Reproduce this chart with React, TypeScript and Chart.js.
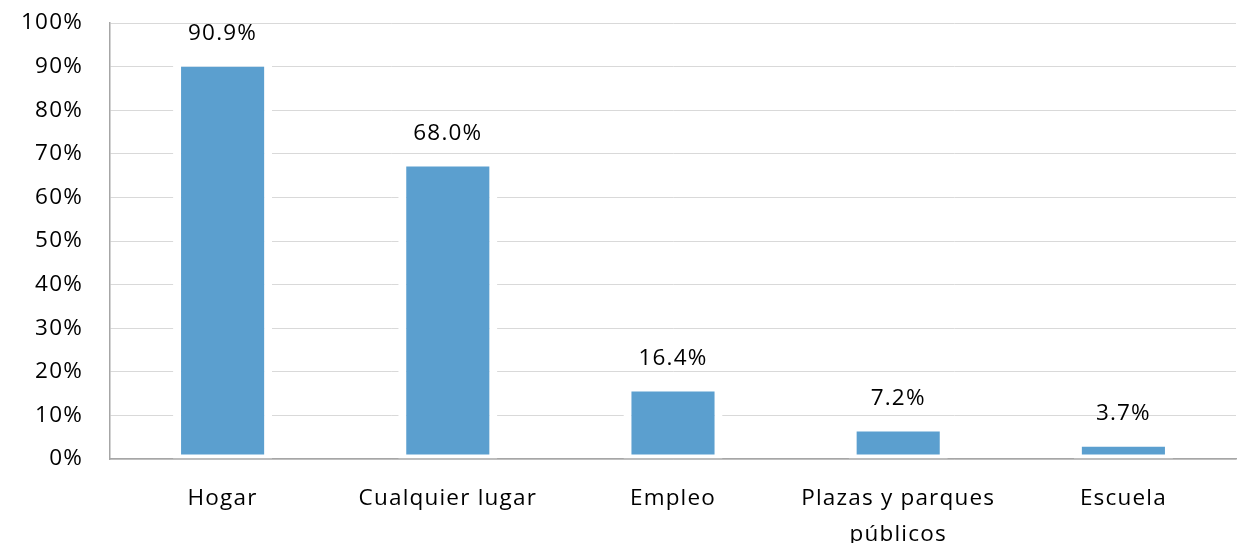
import React, { useEffect, useRef } from "react";
import { Chart, registerables } from "chart.js";

Chart.register(...registerables);

const categories: (string | string[])[] = [
  "Hogar",
  "Cualquier lugar",
  "Empleo",
  ["Plazas y parques", "públicos"],
  "Escuela",
];
const values: number[] = [90.9, 68.0, 16.4, 7.2, 3.7];
const valueLabels: string[] = ["90.9%", "68.0%", "16.4%", "7.2%", "3.7%"];

const FONT = "'Open Sans', sans-serif";
const FONT_SIZE = 22.5;
const LETTER_SPACING = "1.2px";

const spacingPlugin = {
  id: "letterSpacing",
  beforeLayout(chart: any) {
    chart.ctx.letterSpacing = LETTER_SPACING;
  },
  beforeDraw(chart: any) {
    chart.ctx.letterSpacing = LETTER_SPACING;
  },
};

const dataLabelPlugin = {
  id: "dataLabels",
  afterDatasetsDraw(chart: any) {
    const ctx = chart.ctx;
    const meta = chart.getDatasetMeta(0);
    ctx.save();
    ctx.letterSpacing = LETTER_SPACING;
    ctx.font = `${FONT_SIZE}px ${FONT}`;
    ctx.fillStyle = "#000000";
    ctx.textAlign = "center";
    ctx.textBaseline = "middle";
    meta.data.forEach((bar: any, i: number) => {
      ctx.fillText(valueLabels[i], bar.x, bar.y - 29);
    });
    ctx.restore();
  },
};

export default function App() {
  const canvasRef = useRef<HTMLCanvasElement | null>(null);

  useEffect(() => {
    if (!canvasRef.current) return;
    const chart = new Chart(canvasRef.current, {
      type: "bar",
      data: {
        labels: categories,
        datasets: [
          {
            data: values,
            backgroundColor: "#5B9FCF",
            borderColor: "#ffffff",
            borderWidth: { top: 4, bottom: 4, left: 8, right: 8 },
            borderSkipped: false,
            barPercentage: 0.44,
            categoryPercentage: 1,
          },
        ],
      },
      options: {
        animation: false,
        responsive: true,
        maintainAspectRatio: false,
        layout: { padding: { top: 23, right: 6, left: 0, bottom: 0 } },
        plugins: {
          legend: { display: false },
          tooltip: { enabled: false },
        },
        scales: {
          x: {
            grid: { display: false, drawTicks: false },
            border: { display: true, color: "#a6a6a6", width: 1.5 },
            ticks: {
              color: "#000000",
              font: { family: FONT, size: FONT_SIZE, lineHeight: 1.58 },
              padding: 22,
              maxRotation: 0,
              autoSkip: false,
            },
            afterFit: (s: any) => {
              s.height = 84;
              s.paddingLeft = 0;
              s.paddingRight = 0;
            },
          },
          y: {
            min: 0,
            max: 100,
            grid: { color: "#d9d9d9", lineWidth: 1, drawTicks: false },
            border: { display: true, color: "#a6a6a6", width: 1.5 },
            ticks: {
              stepSize: 10,
              color: "#000000",
              font: { family: FONT, size: FONT_SIZE },
              padding: 27,
              callback: (v: any) => `${v}%`,
            },
            afterFit: (s: any) => {
              s.width = 110;
              s.paddingTop = 0;
              s.paddingBottom = 0;
            },
          },
        },
      },
      plugins: [spacingPlugin, dataLabelPlugin],
    });
    return () => chart.destroy();
  }, []);

  return (
    <div style={{ position: "fixed", left: 0, top: 0, width: 1242, height: 543, background: "#ffffff" }}>
      <canvas ref={canvasRef} />
    </div>
  );
}
